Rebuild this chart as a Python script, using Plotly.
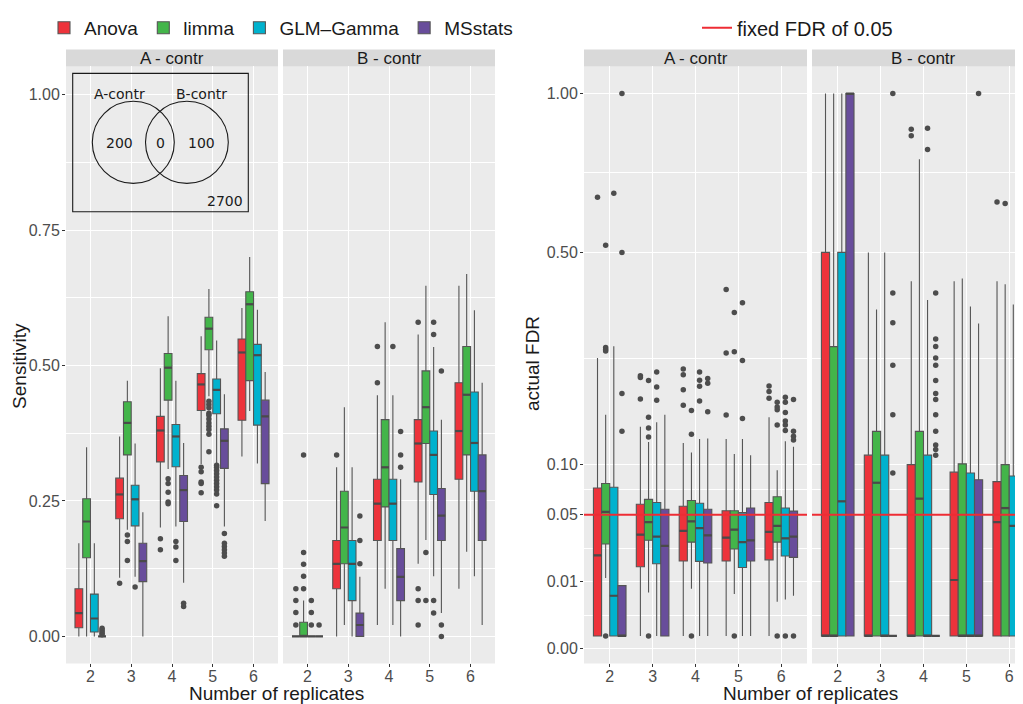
import math
import plotly.graph_objects as go

# ---------------------------------------------------------------- data
REPLICATES = [2, 3, 4, 5, 6]
METHODS = ["Anova", "limma", "GLM\u2013Gamma", "MSstats"]
COLORS = ["#ED333B", "#43B54A", "#00B2CE", "#684D9B"]
PANELS = ["A - contr", "B - contr"]

# ---- Sensitivity, panel "A - contr" (box statistics per replicate count)
sens_A_anova = {"low": [0, .108, .201, .318, .332], "q1": [.016, .217, .322, .417, .399],
                "med": [.043, .262, .380, .465, .524], "q3": [.088, .292, .406, .485, .549],
                "high": [.172, .369, .495, .554, .606]}
sens_A_limma = {"low": [0, .197, .309, .443, .416], "q1": [.145, .335, .436, .529, .472],
                "med": [.212, .394, .496, .568, .613], "q3": [.254, .433, .522, .589, .636],
                "high": [.349, .472, .591, .641, .700]}
sens_A_glm = {"low": [0, .110, .203, .320, .319], "q1": [.008, .204, .313, .411, .390],
              "med": [.033, .253, .369, .455, .519], "q3": [.078, .279, .391, .475, .539],
              "high": [.172, .356, .472, .546, .603]}
sens_A_msstats = {"low": [0, 0, .099, .203, .213], "q1": [0, .101, .212, .310, .282],
                  "med": [0, .139, .270, .361, .406], "q3": [0, .172, .297, .383, .436],
                  "high": [0, .229, .357, .447, .488]}
sens_A_anova_out = [[], [.098], [.18, .16], [.312, .304, .285, .282, .265], []]
sens_A_limma_out = [[], [.187, .175, .140], [.291, .282, .266, .248, .245],
                    [.434, .428, .422, .412, .408, .401, .394, .388, .382, .373, .341], []]
sens_A_glm_out = [[], [.091], [.175, .165, .14],
                  [.316, .312, .306, .300, .294, .288, .282, .276, .270, .263, .241], []]
sens_A_msstats_out = [[.003, .006, .009, .012, .015], [], [.061, .055],
                      [.19, .172, .166, .16, .154, .148], []]

# ---- Sensitivity, panel "B - contr"
sens_B_anova = {"low": [0, 0, .021, .134, .088], "q1": [0, .088, .177, .285, .290],
                "med": [0, .134, .245, .356, .379], "q3": [0, .177, .290, .400, .468],
                "high": [0, .312, .445, .557, .647]}
sens_B_limma = {"low": [0, .021, .088, .178, .156], "q1": [0, .134, .239, .356, .335],
                "med": [0, .201, .312, .423, .446], "q3": [.026, .268, .400, .490, .535],
                "high": [.066, .423, .580, .647, .669]}
sens_B_glm = {"low": [0, 0, .021, .111, .111], "q1": [0, .066, .177, .262, .268],
              "med": [0, .134, .245, .335, .357], "q3": [0, .177, .290, .379, .451],
              "high": [0, .312, .445, .534, .602]}
sens_B_msstats = {"low": [0, 0, 0, .043, .021], "q1": [0, 0, .066, .177, .177],
                  "med": [0, .021, .110, .223, .268], "q3": [0, .043, .162, .273, .335],
                  "high": [0, .110, .290, .400, .468]}
sens_B_anova_out = [[.088, .066, .044, .021], [.335], [.535, .468], [.58, .088, .066, .021], []]
sens_B_limma_out = [[.335, .155, .133, .111, .088], [], [], [.155, .066], []]
sens_B_glm_out = [[.066, .044, .021], [], [.535], [.58, .557, .066, .043], []]
sens_B_msstats_out = [[.021], [.222, .177, .134], [.378, .335, .312], [.49, .021, 0], []]

# ---- actual FDR, panel "A - contr"
fdr_A_anova = {"low": [0, 0, 0, 0, 0], "q1": [0, .0163, .0191, .0191, .0197],
               "med": [.0221, .0349, .0376, .0329, .0368], "q3": [.0744, .0589, .0572, .0533, .0606],
               "high": [.2627, .1487, .1265, .132, .1625]}
fdr_A_limma = {"low": [.0114, .0064, .0076, .006, .004], "q1": [.0287, .0311, .0299, .0257, .0299],
               "med": [.0523, .0441, .0446, .0384, .0412], "q3": [.079, .0634, .0623, .0533, .0659],
               "high": [.1664, .128, .1144, .1125, .0933]}
fdr_A_glm = {"low": [0, 0, 0, 0, .0045], "q1": [0, .0177, .0189, .0159, .0217],
             "med": [.0055, .0336, .0395, .0299, .0324], "q3": [.0751, .0606, .0599, .0517, .0556],
             "high": [.2853, .1552, .132, .132, .129]}
fdr_A_msstats = {"low": [0, 0, 0, 0, .0055], "q1": [0, 0, .0181, .0191, .021],
                 "med": [0, .0276, .0344, .0311, .0336], "q3": [.0086, .0546, .0546, .0556, .053],
                 "high": [.0086, .1664, .1326, .1111, .1216]}
fdr_A_anova_out = [[.654], [.230, .227, .191], [.242, .232, .206, .181], [.408, .272, .166],
                   [.2125, .203, .192]]
fdr_A_limma_out = [[.519, .283, .279, .276, 0], [.2216, .1625, .1471, .1346, 0], [.1727, .1382, 0],
                   [.3555, .2743, 0], [.1857, .178, .1739, .1514, 0]]
fdr_A_glm_out = [[.666], [.237, .2106, .1887], [.237, .2222, .2118, .1875], [.3775, .2577, .1608],
                 [.1936, .1857, .1699, .1569, .1514, .1434, 0]]
fdr_A_msstats_out = [[1.0, .5, .1998, .1423], [], [.2255, .217, .171], [],
                     [.19, .1423, .1356, .1305, 0]]

# ---- actual FDR, panel "B - contr"
fdr_B_anova = {"low": [0, 0, 0, 0, 0], "q1": [0, 0, 0, 0, 0],
               "med": [0, 0, 0, .01065, .0441], "q3": [.5, .1111, .0998, .0912, .081],
               "high": [1.0, .5, .4279, .4279, .4279]}
fdr_B_limma = {"low": [0, 0, 0, 0, 0], "q1": [0, 0, 0, 0, 0],
               "med": [0, .0798, .0641, 0, .0556], "q3": [.2846, .1423, .1423, .1007, .0998],
               "high": [1.0, .3622, .772, .4343, .4206]}
fdr_B_glm = {"low": [0, 0, 0, 0, 0], "q1": [0, 0, 0, 0, 0],
             "med": [.0616, 0, 0, 0, .0412], "q3": [.5, .1111, .1111, .0903, .087],
             "high": [1.0, .5, .3834, .369, .3732]}
fdr_B_msstats = {"low": [0, 0, 0, 0, 0], "q1": [0, 0, 0, 0, 0],
                 "med": [1.0, 0, 0, 0, .004], "q3": [1.0, 0, 0, .083, .0729],
                 "high": [1.0, 0, 0, .3318, .3035]}
fdr_B_anova_out = [[], [], [.873, .85], [], [.64]]
fdr_B_limma_out = [[], [], [], [], [.6353]]
fdr_B_glm_out = [[], [], [.876, .804], [], []]
fdr_B_msstats_out = [[], [1.0, .4, .3334, .2493, .1664, .0903],
                     [.4, .2997, .2846, .2627, .2493, .2216, .1998, .19, .1664, .1423, .124, .1182, .1111],
                     [1.0], []]

FDR_THRESHOLD = 0.05
SENS_TICKS = [0.0, 0.25, 0.50, 0.75, 1.00]
SENS_TICK_LABELS = ["0.00", "0.25", "0.50", "0.75", "1.00"]
# lowest break of the ggplot scale sits slightly below zero and prints as "0.00"
FDR_TICKS = [-0.00056, 0.01, 0.05, 0.10, 0.50, 1.00]
FDR_TICK_LABELS = ["0.00", "0.01", "0.05", "0.10", "0.50", "1.00"]

# Venn inset
VENN_SETS = ["A-contr", "B-contr"]
VENN_COUNTS = {"A_only": 200, "both": 0, "B_only": 100, "neither": 2700}

# ---------------------------------------------------------------- layout helpers
# the page body adds an 8 px margin, so the figure is drawn 8 px in from the corner
PAGE_OFFSET = 8
W, H = 1023 - PAGE_OFFSET, 704 - PAGE_OFFSET
FONT = "Liberation Sans, Arial, Helvetica, sans-serif"
PANEL_BG = "#EBEBEB"
STRIP_BG = "#D9D9D9"
BOX_LINE = "#555555"
BOX_W = 0.19


def px(x):
    """screen pixel x -> paper fraction"""
    return (x - PAGE_OFFSET) / W


def py(y):
    """screen pixel y -> paper fraction"""
    return 1 - (y - PAGE_OFFSET) / H


def fdr_scale(v):
    return math.copysign(math.sqrt(abs(v)), v)


def midpoints(vals):
    return [(a + b) / 2 for a, b in zip(vals[:-1], vals[1:])]


Y_DOMAIN = [py(663), py(59)]
X_DOMAINS = {"x": [px(66), px(278)], "x2": [px(283), px(495)],
             "x3": [px(584), px(807)], "x4": [px(812), 1.0]}
X_RANGES = {"x": [1.4, 6.6], "x2": [1.4, 6.6], "x3": [1.4, 6.6], "x4": [1.4, 6.321]}

fig = go.Figure()

panels = [
    ("x", "y", [sens_A_anova, sens_A_limma, sens_A_glm, sens_A_msstats],
     [sens_A_anova_out, sens_A_limma_out, sens_A_glm_out, sens_A_msstats_out], None, True),
    ("x2", "y2", [sens_B_anova, sens_B_limma, sens_B_glm, sens_B_msstats],
     [sens_B_anova_out, sens_B_limma_out, sens_B_glm_out, sens_B_msstats_out], None, False),
    ("x3", "y3", [fdr_A_anova, fdr_A_limma, fdr_A_glm, fdr_A_msstats],
     [fdr_A_anova_out, fdr_A_limma_out, fdr_A_glm_out, fdr_A_msstats_out], fdr_scale, False),
    ("x4", "y4", [fdr_B_anova, fdr_B_limma, fdr_B_glm, fdr_B_msstats],
     [fdr_B_anova_out, fdr_B_limma_out, fdr_B_glm_out, fdr_B_msstats_out], fdr_scale, False),
]

for xa, ya, stats_list, out_list, tf, show_leg in panels:
    f = tf if tf else (lambda v: v)
    med_x, med_y = [], []
    pt_x, pt_y = [], []
    for i, (method, color, st, outs) in enumerate(zip(METHODS, COLORS, stats_list, out_list)):
        off = (i - 1.5) * BOX_W
        xs = [r + off for r in REPLICATES]
        fig.add_trace(go.Box(
            x=xs, q1=[f(v) for v in st["q1"]], median=[f(v) for v in st["med"]],
            q3=[f(v) for v in st["q3"]], lowerfence=[f(v) for v in st["low"]],
            upperfence=[f(v) for v in st["high"]],
            orientation="v", width=BOX_W, boxpoints=False, whiskerwidth=0,
            fillcolor=color, line=dict(color=BOX_LINE, width=1.1),
            name=method, legendgroup=method, showlegend=show_leg, legend="legend",
            xaxis=xa, yaxis=ya, hoverinfo="skip"))
        for xv, m in zip(xs, st["med"]):
            med_x += [xv - BOX_W / 2, xv + BOX_W / 2, None]
            med_y += [f(m), f(m), None]
        for xv, vals in zip(xs, outs):
            for v in vals:
                pt_x.append(xv)
                pt_y.append(f(v))
    fig.add_trace(go.Scatter(x=med_x, y=med_y, mode="lines",
                             line=dict(color="#4A4A4A", width=2.2),
                             showlegend=False, hoverinfo="skip", xaxis=xa, yaxis=ya))
    fig.add_trace(go.Scatter(x=pt_x, y=pt_y, mode="markers",
                             marker=dict(size=5.5, color="#4D4D4D"),
                             showlegend=False, hoverinfo="skip", xaxis=xa, yaxis=ya))

# ---------------------------------------------------------------- axes
axis_common = dict(showgrid=True, gridcolor="white", gridwidth=1.1, zeroline=False,
                   showline=False, ticks="outside", ticklen=3, tickcolor="#333333",
                   tickfont=dict(family=FONT, size=16, color="#4D4D4D"), fixedrange=True)

layout_axes = {}
for name, anchor in [("xaxis", "y"), ("xaxis2", "y2"), ("xaxis3", "y3"), ("xaxis4", "y4")]:
    key = name.replace("axis", "") if name != "xaxis" else "x"
    layout_axes[name] = dict(axis_common, domain=X_DOMAINS[key], range=X_RANGES[key],
                             anchor=anchor, tickmode="array", tickvals=REPLICATES,
                             ticktext=[str(r) for r in REPLICATES], ticklabelstandoff=-5)

sens_minor = dict(tickvals=midpoints(SENS_TICKS), showgrid=True, gridcolor="white",
                  gridwidth=0.55, ticks="")
fdr_t = [fdr_scale(v) for v in FDR_TICKS]
fdr_minor = dict(tickvals=midpoints(fdr_t), showgrid=True, gridcolor="white",
                 gridwidth=0.55, ticks="")

layout_axes["yaxis"] = dict(axis_common, domain=Y_DOMAIN, range=[-0.05, 1.052], anchor="x",
                            tickmode="array", tickvals=SENS_TICKS, ticktext=SENS_TICK_LABELS,
                            minor=sens_minor, ticklabelstandoff=-1)
layout_axes["yaxis2"] = dict(axis_common, domain=Y_DOMAIN, range=[-0.05, 1.052], anchor="x2",
                             tickmode="array", tickvals=SENS_TICKS, showticklabels=False,
                             ticks="", minor=sens_minor)
layout_axes["yaxis3"] = dict(axis_common, domain=Y_DOMAIN, range=[-0.0507, 1.050], anchor="x3",
                             tickmode="array", tickvals=fdr_t, ticktext=FDR_TICK_LABELS,
                             minor=fdr_minor, ticklabelstandoff=-1)
layout_axes["yaxis4"] = dict(axis_common, domain=Y_DOMAIN, range=[-0.0507, 1.050], anchor="x4",
                             tickmode="array", tickvals=fdr_t, showticklabels=False,
                             ticks="", minor=fdr_minor)

# ---------------------------------------------------------------- shapes & annotations
shapes = []
annotations = []

# facet strips
for xa in ["x", "x2", "x3", "x4"]:
    d = X_DOMAINS[xa]
    shapes.append(dict(type="rect", xref="paper", yref="paper", x0=d[0], x1=d[1],
                       y0=py(59), y1=py(42), fillcolor=STRIP_BG, line=dict(width=0),
                       layer="below"))
strip_centers = {"x": (66 + 278) / 2, "x2": (283 + 495) / 2, "x3": (584 + 807) / 2,
                 "x4": (812 + 1034) / 2}
for xa, label in zip(["x", "x2", "x3", "x4"], PANELS + PANELS):
    annotations.append(dict(text=label, xref="paper", yref="paper", x=px(strip_centers[xa]),
                            y=py(50.5), showarrow=False, xanchor="center", yanchor="middle",
                            font=dict(family=FONT, size=17, color="#1A1A1A")))

# fixed FDR reference line (with legend entry)
for i, xa in enumerate(["x3", "x4"]):
    ya = "y3" if xa == "x3" else "y4"
    shapes.append(dict(type="line", xref=f"{xa} domain", yref=ya, x0=0, x1=1,
                       y0=fdr_scale(FDR_THRESHOLD), y1=fdr_scale(FDR_THRESHOLD),
                       line=dict(color="#EE2C34", width=2), layer="above",
                       showlegend=(i == 0), legend="legend2",
                       name=f"fixed FDR of {FDR_THRESHOLD:.2f}"))

# Venn inset (paper coordinates)
venn_line = dict(color="#1A1A1A", width=1.1)
shapes.append(dict(type="rect", xref="paper", yref="paper", x0=px(72.7), x1=px(248.3),
                   y0=py(206), y1=py(66), line=venn_line, layer="above"))
shapes.append(dict(type="circle", xref="paper", yref="paper", x0=px(92.3), x1=px(174.3),
                   y0=py(177.3), y1=py(94.3), line=venn_line, layer="above"))
shapes.append(dict(type="circle", xref="paper", yref="paper", x0=px(145.5), x1=px(228.3),
                   y0=py(177.3), y1=py(94.3), line=venn_line, layer="above"))
venn_font = dict(family="DejaVu Sans, sans-serif", size=14, color="#1A1A1A")
venn_texts = [(VENN_SETS[0], 119, 87), (VENN_SETS[1], 201.7, 87),
              (str(VENN_COUNTS["A_only"]), 119.3, 136.5), (str(VENN_COUNTS["both"]), 160.3, 136.5),
              (str(VENN_COUNTS["B_only"]), 201.3, 136.5), (str(VENN_COUNTS["neither"]), 225, 195)]
for t, x, y in venn_texts:
    annotations.append(dict(text=t, xref="paper", yref="paper", x=px(x), y=py(y),
                            showarrow=False, xanchor="center", yanchor="middle", font=venn_font))

# axis titles
title_font = dict(family=FONT, size=19, color="#1A1A1A")
annotations += [
    dict(text="Sensitivity", xref="paper", yref="paper", x=px(20), y=py(362), textangle=-90,
         showarrow=False, xanchor="center", yanchor="middle", font=title_font),
    dict(text="actual FDR", xref="paper", yref="paper", x=px(533), y=py(360), textangle=-90,
         showarrow=False, xanchor="center", yanchor="middle", font=title_font),
    dict(text="Number of replicates", xref="paper", yref="paper", x=px(276), y=py(693),
         showarrow=False, xanchor="center", yanchor="middle", font=title_font),
    dict(text="Number of replicates", xref="paper", yref="paper", x=px(810), y=py(693),
         showarrow=False, xanchor="center", yanchor="middle", font=title_font),
]

fig.update_layout(
    width=W, height=H, margin=dict(l=0, r=0, t=0, b=0),
    paper_bgcolor="white", plot_bgcolor=PANEL_BG,
    font=dict(family=FONT, color="#1A1A1A"),
    boxmode="overlay",
    shapes=shapes, annotations=annotations,
    legend=dict(orientation="h", x=px(281), xanchor="center", y=py(20), yanchor="middle",
                font=dict(family=FONT, size=19, color="#1A1A1A"), itemwidth=30,
                bgcolor="rgba(0,0,0,0)", itemclick=False, itemdoubleclick=False),
    legend2=dict(orientation="h", x=px(697), xanchor="left", y=py(20), yanchor="middle",
                 font=dict(family=FONT, size=20, color="#1A1A1A"), itemwidth=30,
                 bgcolor="rgba(0,0,0,0)", itemclick=False, itemdoubleclick=False),
    **layout_axes,
)

fig.write_html("out.html")
